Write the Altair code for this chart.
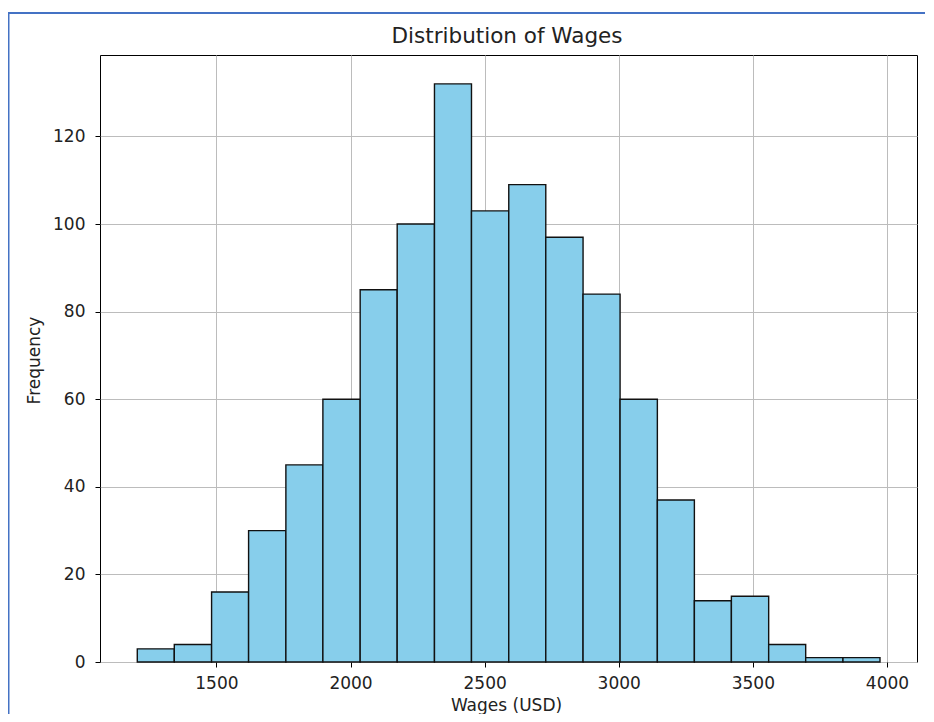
import altair as alt
import pandas as pd

# Histogram bins (wages, USD) and counts
bin_start = [1205, 1343, 1482, 1620, 1759, 1897, 2036, 2174, 2313, 2451,
             2590, 2728, 2867, 3005, 3144, 3282, 3420, 3559, 3697, 3836]
bin_end = [1343, 1482, 1620, 1759, 1897, 2036, 2174, 2313, 2451, 2590,
           2728, 2867, 3005, 3144, 3282, 3420, 3559, 3697, 3836, 3974]
counts = [3, 4, 16, 30, 45, 60, 85, 100, 132, 103,
          109, 97, 84, 60, 37, 14, 15, 4, 1, 1]

x_ticks = [1500, 2000, 2500, 3000, 3500, 4000]
y_ticks = [0, 20, 40, 60, 80, 100, 120]
title_text = "Distribution of Wages"

df = pd.DataFrame({"start": bin_start, "end": bin_end, "count": counts})

FONT = "DejaVu Sans"

bars = alt.Chart(df).mark_rect(
    color="#87CEEB", stroke="#111111", strokeWidth=1.4
).encode(
    x=alt.X("start:Q",
            scale=alt.Scale(domain=[1066, 4112], nice=False, zero=False),
            axis=alt.Axis(values=x_ticks, title="Wages (USD)", format="d",
                          titleX=406, titleY=43, titleBaseline="middle")),
    x2="end:Q",
    y=alt.Y("count:Q",
            scale=alt.Scale(domain=[0, 138.6], nice=False),
            axis=alt.Axis(values=y_ticks, title="Frequency",
                          titleX=-66, titleY=305, titleBaseline="middle")),
)

one = pd.DataFrame({"k": [0]})
title_mark = alt.Chart(one).mark_text(
    text=title_text, font=FONT, fontSize=21.5, color="#222222",
    align="center", baseline="alphabetic"
).encode(x=alt.value(407), y=alt.value(-12))

frame_top = alt.Chart(one).mark_rule(color="#4472c4", strokeWidth=2).encode(
    x=alt.value(-92), x2=alt.value(830), y=alt.value(-42)
)
frame_left = alt.Chart(one).mark_rule(color="#4472c4", strokeWidth=2).encode(
    x=alt.value(-91.5), y=alt.value(-43), y2=alt.value(660)
)

chart = alt.layer(bars, title_mark, frame_top, frame_left).properties(
    width=817,
    height=607,
    autosize=alt.AutoSizeParams(type="none"),
    padding={"left": 92, "top": 47, "right": 8, "bottom": 52},
).configure_view(
    stroke="#000000", strokeWidth=1
).configure_axis(
    zindex=1,
    domain=False,
    grid=True,
    gridColor="#bcbcbc",
    gridWidth=1,
    ticks=True,
    tickColor="#000000",
    tickSize=5,
    labelFont=FONT,
    labelFontSize=17,
    labelColor="#222222",
    titleFont=FONT,
    titleFontSize=17,
    titleFontWeight="normal",
    titleColor="#222222",
).configure_axisX(
    labelPadding=8
).configure_axisY(
    labelPadding=10
)

chart.save("out.html", embed_options={"renderer": "svg", "actions": False})
